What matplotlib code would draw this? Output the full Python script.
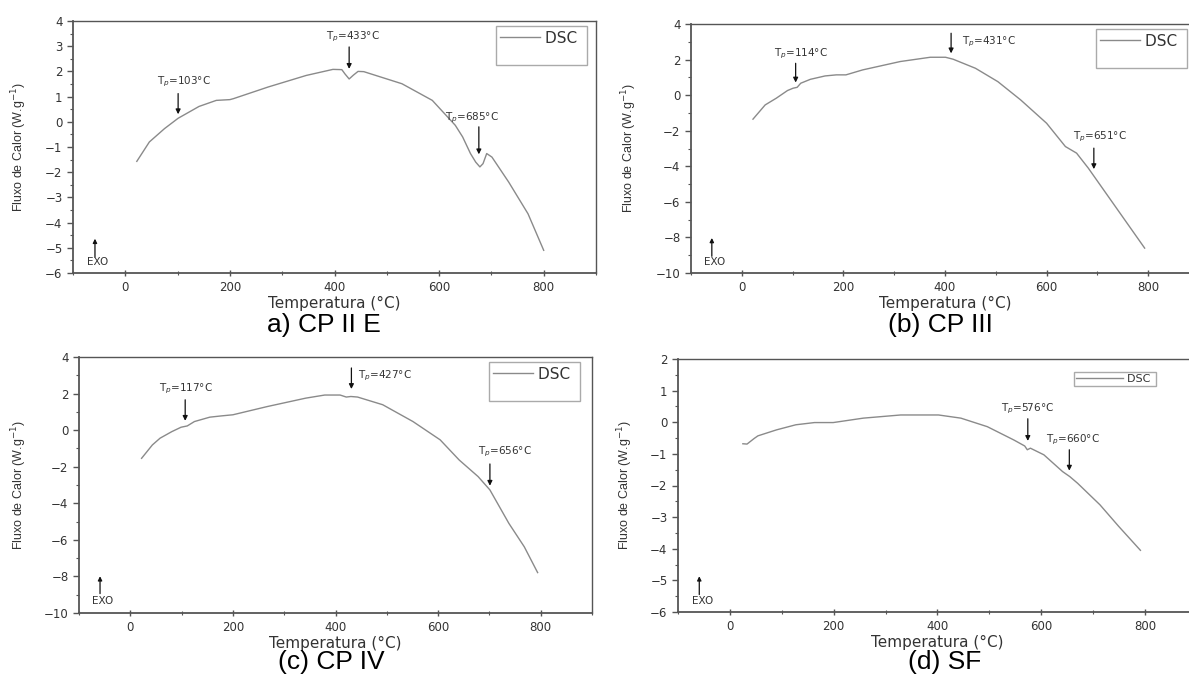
import matplotlib
matplotlib.use("Agg")
import matplotlib.pyplot as plt
from matplotlib.lines import Line2D

# ---------------- data ----------------
# (a) CP II E
a_T = [22, 46, 75, 101, 141, 174, 200, 207, 273, 346, 397, 414, 420, 428, 436, 445, 456,
       529, 587, 631, 645, 660, 670, 678, 684, 691, 701, 733, 770, 800]
a_Q = [-1.57, -0.80, -0.27, 0.14, 0.61, 0.85, 0.88, 0.92, 1.38, 1.84, 2.08, 2.07, 1.90, 1.70, 1.85, 2.00, 1.99,
       1.51, 0.85, -0.14, -0.60, -1.26, -1.60, -1.79, -1.66, -1.26, -1.40, -2.39, -3.65, -5.10]
a_peaks = [103, 433, 685]

# (b) CP III
b_T = [22, 46, 68, 90, 101, 109, 116, 135, 164, 186, 205, 238, 312, 371, 401, 416, 460,
       504, 549, 600, 637, 659, 682, 719, 756, 793]
b_Q = [-1.35, -0.55, -0.17, 0.26, 0.39, 0.44, 0.67, 0.89, 1.08, 1.14, 1.14, 1.42, 1.89, 2.13, 2.13, 2.02, 1.51,
       0.76, -0.27, -1.58, -2.89, -3.26, -4.10, -5.60, -7.10, -8.60]
b_peaks = [114, 431, 651]

# (c) CP IV
c_T = [22, 43, 58, 81, 99, 111, 125, 155, 178, 200, 267, 342, 379, 409, 421, 430, 443,
       492, 551, 604, 641, 678, 701, 738, 768, 794]
c_Q = [-1.54, -0.81, -0.44, -0.08, 0.16, 0.23, 0.47, 0.71, 0.78, 0.84, 1.29, 1.75, 1.92, 1.92, 1.81, 1.84, 1.81,
       1.39, 0.47, -0.53, -1.63, -2.54, -3.27, -5.10, -6.38, -7.79]
c_peaks = [117, 427, 656]

# (d) SF
d_T = [25, 33, 47, 54, 90, 127, 163, 199, 257, 329, 402, 445, 496, 547, 568, 573, 579,
       605, 641, 655, 670, 713, 749, 791]
d_Q = [-0.68, -0.69, -0.51, -0.43, -0.24, -0.08, -0.01, -0.01, 0.13, 0.23, 0.23, 0.13, -0.14, -0.56, -0.75, -0.87, -0.82,
       -1.03, -1.56, -1.72, -1.93, -2.61, -3.29, -4.05]
d_peaks = [576, 660]

captions = ["a) CP II E", "(b) CP III", "(c) CP IV", "(d) SF"]
xlabel = "Temperatura (°C)"
ylabel = "Fluxo de Calor (W.g$^{-1}$)"

# ---------------- layout / style ----------------
W, H = 1189, 685
fig = plt.figure(figsize=(W / 100, H / 100), dpi=100)


def px_axes(l, r, t, b):
    return [l / W, 1 - b / H, (r - l) / W, (b - t) / H]


panels = [
    dict(T=a_T, Q=a_Q, peaks=a_peaks, box=(73, 596, 21, 273), ylim=(-6, 4), ymaj=1,
         # (text x, text y, arrow x, arrow from y, arrow to y)
         ann=[(61, 1.58, 101, 1.12, 0.30), (383, 3.37, 428, 2.97, 2.10), (612, 0.16, 676, -0.20, -1.29)],
         exo=(-58, -5.37, -4.64, -5.56), leg=(9, 5, 0.0), cap=(324, 325), ylx=29),
    dict(T=b_T, Q=b_Q, peaks=b_peaks, box=(691, 1199, 24, 273), ylim=(-10, 4), ymaj=2,
         ann=[(64, 2.35, 106, 1.79, 0.71), (434, 3.00, 412, 3.48, 2.35), (652, -2.33, 693, -2.98, -4.16)],
         exo=(-59, -9.06, -8.03, -9.38), leg=(12, 5, 0.0), cap=(940, 325), ylx=639),
    dict(T=c_T, Q=c_Q, peaks=c_peaks, box=(79, 592, 357, 613), ylim=(-10, 4), ymaj=2,
         ann=[(55, 2.25, 107, 1.66, 0.51), (443, 2.98, 431, 3.40, 2.25), (678, -1.21, 701, -1.85, -3.04)],
         exo=(-59, -8.94, -7.99, -9.34), leg=(12, 5, 0.0), cap=(331, 662), ylx=29),
    dict(T=d_T, Q=d_Q, peaks=d_peaks, box=(678, 1197, 359, 612), ylim=(-6, 2), ymaj=1,
         ann=[(523, 0.41, 574, 0.11, -0.59), (610, -0.56, 654, -0.87, -1.53)],
         exo=(-59, -5.45, -4.87, -5.64), leg=(41, 13, 1.0), cap=(945, 662), ylx=635),
]

line_col = "#8a8a8a"
spine_col = "#555555"
txt_col = "#333333"

for i, p in enumerate(panels):
    l, r, t, b = p["box"]
    ax = fig.add_axes(px_axes(l, r, t, b))
    ax.plot(p["T"], p["Q"], color=line_col, lw=1.0)
    ax.set_xlim(-100, 900)
    ax.set_ylim(*p["ylim"])
    ax.set_xticks([0, 200, 400, 600, 800])
    ax.set_xticks([-100, 100, 300, 500, 700, 900], minor=True)
    y0, y1 = p["ylim"]
    ym = p["ymaj"]
    ax.set_yticks([y0 + k * ym for k in range(int((y1 - y0) / ym) + 1)])
    ax.set_yticks([y0 + k * ym / 2 for k in range(int((y1 - y0) / ym * 2) + 1)], minor=True)
    for s in ax.spines.values():
        s.set_color(spine_col)
        s.set_linewidth(1.0)
    ax.spines["left"].set_linewidth(1.3)
    ax.spines["bottom"].set_linewidth(1.3)
    ax.tick_params(axis="y", which="major", direction="out", length=4, width=1, colors=spine_col,
                   labelcolor=txt_col, labelsize=8.5)
    ax.tick_params(axis="y", which="minor", direction="out", length=2.5, width=0.8, colors=spine_col)
    ax.tick_params(axis="x", which="major", direction="inout", length=5, width=1, colors=spine_col,
                   labelcolor=txt_col, labelsize=8.5, pad=3)
    ax.tick_params(axis="x", which="minor", direction="inout", length=3, width=0.8, colors=spine_col)
    for lab in ax.get_xticklabels() + ax.get_yticklabels():
        lab.set_family("DejaVu Sans")

    ax.set_xlabel(xlabel, fontsize=11, family="DejaVu Sans", color=txt_col, labelpad=1.5)
    ax.set_ylabel(ylabel, fontsize=9, family=["Liberation Sans Narrow", "Liberation Sans", "DejaVu Sans"],
                  color=txt_col)
    ax.yaxis.set_label_coords((p["ylx"] - l) / (r - l), 0.5)

    # peak annotations
    for (tx, ty, axx, ay0, ay1), pk in zip(p["ann"], p["peaks"]):
        ax.text(tx, ty, "T$_p$=%d°C" % pk, fontsize=7.5, family="DejaVu Sans", color=txt_col,
                ha="left", va="center")
        ax.annotate("", xy=(axx, ay1), xytext=(axx, ay0),
                    arrowprops=dict(arrowstyle="-|>", color="#111111", lw=0.9, mutation_scale=7,
                                    shrinkA=0, shrinkB=0))
    ex, ey0, ey1, ety = p["exo"]
    ax.annotate("", xy=(ex, ey1), xytext=(ex, ey0),
                arrowprops=dict(arrowstyle="-|>", color="#111111", lw=0.9, mutation_scale=6,
                                shrinkA=0, shrinkB=0))
    ax.text(ex + 6, ety, "EXO", fontsize=7.5, family="DejaVu Sans", color=txt_col, ha="center", va="center")

    # legend
    dxr, dyt, small = p["leg"]
    h = Line2D([], [], color=line_col, lw=1.0)
    blank = Line2D([], [], color="none")
    if small:
        handles, labels, fs, bp, hl = [h], ["DSC "], 8, 0.2, 4.2
    else:
        handles, labels, fs, bp, hl = [h, blank], ["DSC ", " "], 11, 0.3, 2.6
    leg = ax.legend(handles, labels, loc="upper right",
                    bbox_to_anchor=(1 - dxr / (r - l), 1 - dyt / (b - t)), borderaxespad=0,
                    frameon=True, fancybox=False, edgecolor="#aaaaaa", framealpha=1,
                    handlelength=hl, handletextpad=0.35, borderpad=bp, labelspacing=0.0,
                    prop=dict(family="DejaVu Sans", size=fs))
    leg.get_frame().set_linewidth(1.0)
    for tx in leg.get_texts():
        tx.set_color(txt_col)

    cx, cy = p["cap"]
    fig.text(cx / W, 1 - cy / H, captions[i], fontsize=19, family="Liberation Sans", ha="center",
             va="center", color="black")

fig.savefig("out.png", dpi=100)
